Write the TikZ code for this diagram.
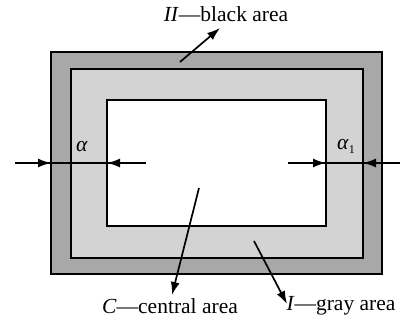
\documentclass[tikz,border=0pt]{standalone}
\usepackage{fontspec}
\setmainfont{Liberation Serif}
\usetikzlibrary{arrows.meta}
\definecolor{darkarea}{HTML}{A8A8A8}
\definecolor{grayarea}{HTML}{D3D3D3}
\tikzset{frame/.style={line width=1.5pt},
         arr/.style={line width=1.7pt,-{Latex[length=13pt,width=9pt]}},
         lab/.style={font=\fontsize{21.5}{25}\selectfont,inner sep=0pt}
         }
\begin{document}
\begin{tikzpicture}[x=1pt,y=-1pt]
        \useasboundingbox (0,0) rectangle (400,320);
        % areas
        \draw[frame, fill=darkarea] (51,52) rectangle (382,274);
        \draw[frame, fill=grayarea] (71,69) rectangle (363,258);
        \draw[frame, fill=white] (107,100) rectangle (326,226);
        % labels
        \node[lab] (blacklab) at (226,14) {\textit{II}—black area};
        \node[lab] (centrallab) at (170,306) {\textit{C}—central area};
        \node[lab] (graylab) at (341,306) {\textit{I}—gray area};
        \node[lab] (alab) at (82,147) {\textit{α}};
        \node[lab] (aonelab) at (346,146) {\textit{α}\raisebox{-0.4ex}{\fontsize{12}{14}\selectfont 1}};
        % connectors
        \coordinate (b1) at (180,62);  \coordinate (b2) at (220,28);
        \coordinate (c1) at (199,188); \coordinate (c2) at (172,295);
        \coordinate (g1) at (254,241); \coordinate (g2) at (287,304);
        \draw[arr] (b1) -- (b2);
        \draw[arr] (c1) -- (c2);
        \draw[arr] (g1) -- (g2);
        % width marks
        \coordinate (la) at (15,163);  \coordinate (lb) at (51,163);
        \coordinate (lc) at (107,163); \coordinate (ld) at (146,163);
        \coordinate (ra) at (288,163); \coordinate (rb) at (326,163);
        \coordinate (rc) at (363,163); \coordinate (rd) at (400,163);
        \draw[line width=1.7pt] (la) -- (ld);
        \draw[line width=1.7pt] (ra) -- (rd);
        \draw[arr] (la) -- (lb);
        \draw[arr] (ld) -- (lc);
        \draw[arr] (ra) -- (rb);
        \draw[arr] (rd) -- (rc);
\end{tikzpicture}
\end{document}
